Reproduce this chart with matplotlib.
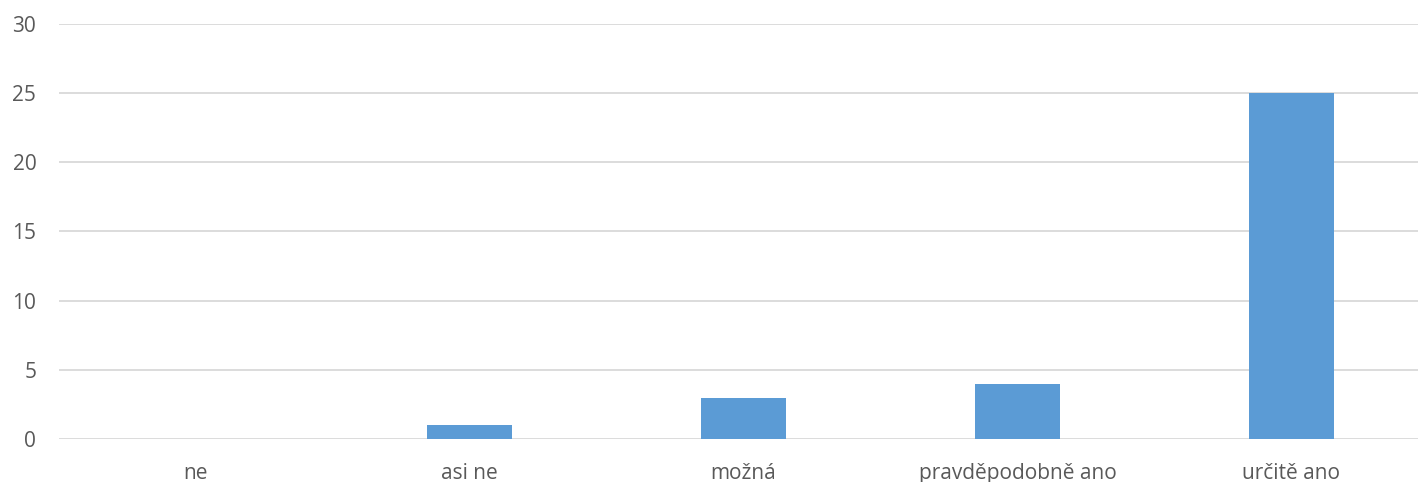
import matplotlib.pyplot as plt

categories = ['ne', 'asi ne', 'možná', 'pravděpodobně ano', 'určitě ano']
values = [0, 1, 3, 4, 25]
yticks = [0, 5, 10, 15, 20, 25, 30]

plt.rcParams['font.family'] = ['Open Sans', 'DejaVu Sans']

W, H = 1418, 482
fig = plt.figure(figsize=(W / 100, H / 100), dpi=100)
left_px, bottom_px, top_px = 58.5, 439, 24
slot = 274
ax = fig.add_axes([left_px / W, 1 - bottom_px / H, (W - left_px) / W, (bottom_px - top_px) / H])

x = range(len(categories))
ax.bar(x, values, width=85 / slot, color='#5B9BD5', zorder=3)

ax.set_xlim(-0.5, -0.5 + (W - left_px) / slot)
ax.set_ylim(0, 30)
ax.set_yticks(yticks)
ax.set_xticks(list(x))
ax.set_xticklabels(categories)
ax.grid(axis='y', color='#D9D9D9', linewidth=1.3, zorder=0)
for s in ax.spines.values():
    s.set_visible(False)
ax.tick_params(axis='both', length=0, labelsize=15, labelcolor='#595959')
ax.tick_params(axis='y', pad=16)
ax.tick_params(axis='x', pad=17)

fig.savefig('out.png', dpi=100)
